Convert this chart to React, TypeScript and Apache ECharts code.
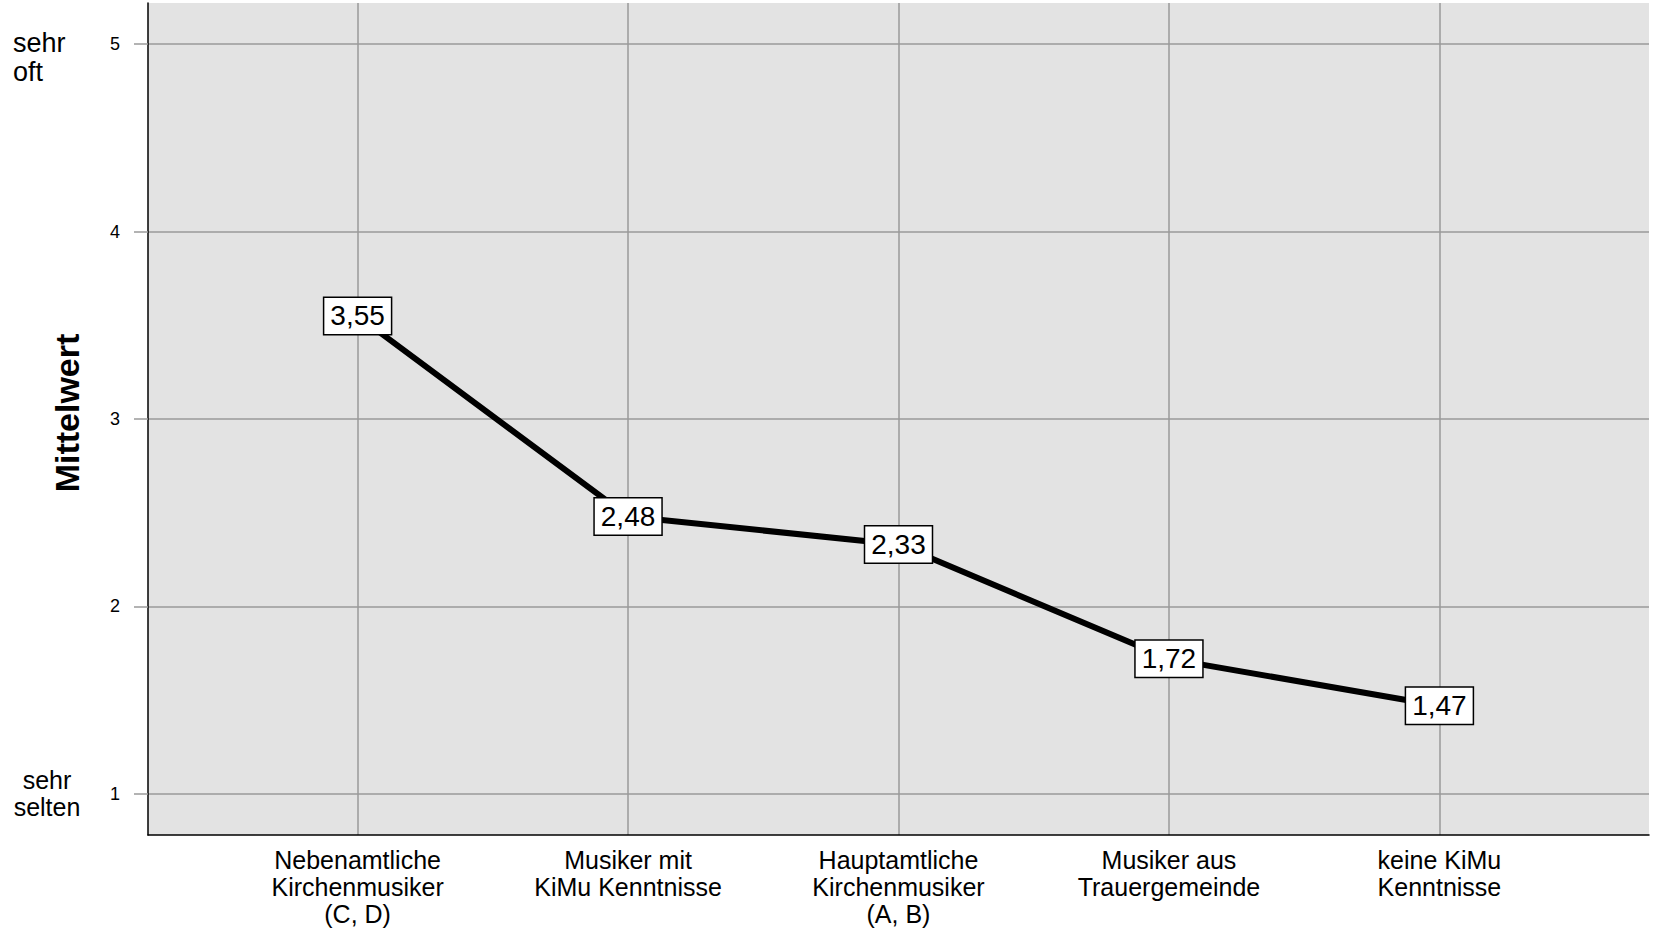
import React, { useEffect, useRef } from "react";
import * as echarts from "echarts";

const categories: string[] = [
  "Nebenamtliche\nKirchenmusiker\n(C, D)",
  "Musiker mit\nKiMu Kenntnisse",
  "Hauptamtliche\nKirchenmusiker\n(A, B)",
  "Musiker aus\nTrauergemeinde",
  "keine KiMu\nKenntnisse",
];
const means: number[] = [3.55, 2.48, 2.33, 1.72, 1.47];
const yTickValues: number[] = [1, 2, 3, 4, 5];
const categoryIndex: number[] = categories.map((_, i) => i);
const yAxisTitle = "Mittelwert";
const topAnchor = "sehr\noft";
const bottomAnchor = "sehr\nselten";

const FONT = "'Liberation Sans', Arial, Helvetica, sans-serif";

export default function App() {
  const ref = useRef<HTMLDivElement>(null);

  useEffect(() => {
    if (!ref.current) return;
    const chart = echarts.init(ref.current, undefined, { renderer: "svg" });
    chart.setOption({
      animation: false,
      backgroundColor: "#ffffff",
      grid: {
        left: 148,
        right: 5,
        top: 3,
        bottom: 98,
        show: true,
        backgroundColor: "#e3e3e3",
        borderWidth: 0,
      },
      xAxis: {
        type: "value",
        min: -0.775,
        max: 4.775,
        axisLine: { show: true, onZero: false, lineStyle: { color: "#000", width: 1.5 } },
        axisTick: { show: false, customValues: categoryIndex },
        splitLine: { show: true, lineStyle: { color: "#9a9a9a", width: 1.5 } },
        axisLabel: {
          customValues: categoryIndex,
          formatter: (v: number) => categories[Math.round(v)] ?? "",
          fontFamily: FONT,
          fontSize: 25,
          lineHeight: 27,
          color: "#000",
          margin: 11,
          align: "center",
        },
      },
      yAxis: {
        type: "value",
        min: 0.78,
        max: 5.22,
        axisLine: { show: true, onZero: false, lineStyle: { color: "#000", width: 1.5 } },
        axisTick: {
          show: true,
          customValues: yTickValues,
          length: 14,
          lineStyle: { color: "#9a9a9a", width: 1.5 },
        },
        splitLine: { show: true, lineStyle: { color: "#9a9a9a", width: 1.5 } },
        axisLabel: {
          customValues: yTickValues,
          fontFamily: FONT,
          fontSize: 18,
          color: "#000",
          margin: 28,
        },
      },
      graphic: [
        {
          type: "text",
          x: 67,
          y: 413,
          rotation: Math.PI / 2,
          style: {
            text: yAxisTitle,
            fontFamily: FONT,
            fontWeight: "bold",
            fontSize: 34,
            fill: "#000",
            align: "center",
            verticalAlign: "middle",
          },
        },
        {
          type: "text",
          x: 13,
          y: 57,
          style: {
            text: topAnchor,
            fontFamily: FONT,
            fontSize: 27,
            lineHeight: 29,
            fill: "#000",
            align: "left",
            verticalAlign: "middle",
          },
        },
        {
          type: "text",
          x: 47,
          y: 793,
          style: {
            text: bottomAnchor,
            fontFamily: FONT,
            fontSize: 25,
            lineHeight: 27,
            fill: "#000",
            align: "center",
            verticalAlign: "middle",
          },
        },
      ],
      series: [
        {
          type: "line",
          data: means.map((v, i) => [i, v]),
          symbol: "circle",
          symbolSize: 1,
          itemStyle: { color: "#000" },
          lineStyle: { color: "#000", width: 6 },
          label: {
            show: true,
            position: "inside",
            formatter: (p: any) => p.value[1].toFixed(2).replace(".", ","),
            fontFamily: FONT,
            fontSize: 28,
            color: "#000",
            backgroundColor: "#ffffff",
            borderColor: "#000",
            borderWidth: 1.5,
            padding: [5, 6, 3, 6],
          },
        },
      ],
    });
    return () => chart.dispose();
  }, []);

  return (
    <div
      ref={ref}
      style={{ position: "absolute", left: 0, top: 0, width: 1654, height: 933 }}
    />
  );
}
